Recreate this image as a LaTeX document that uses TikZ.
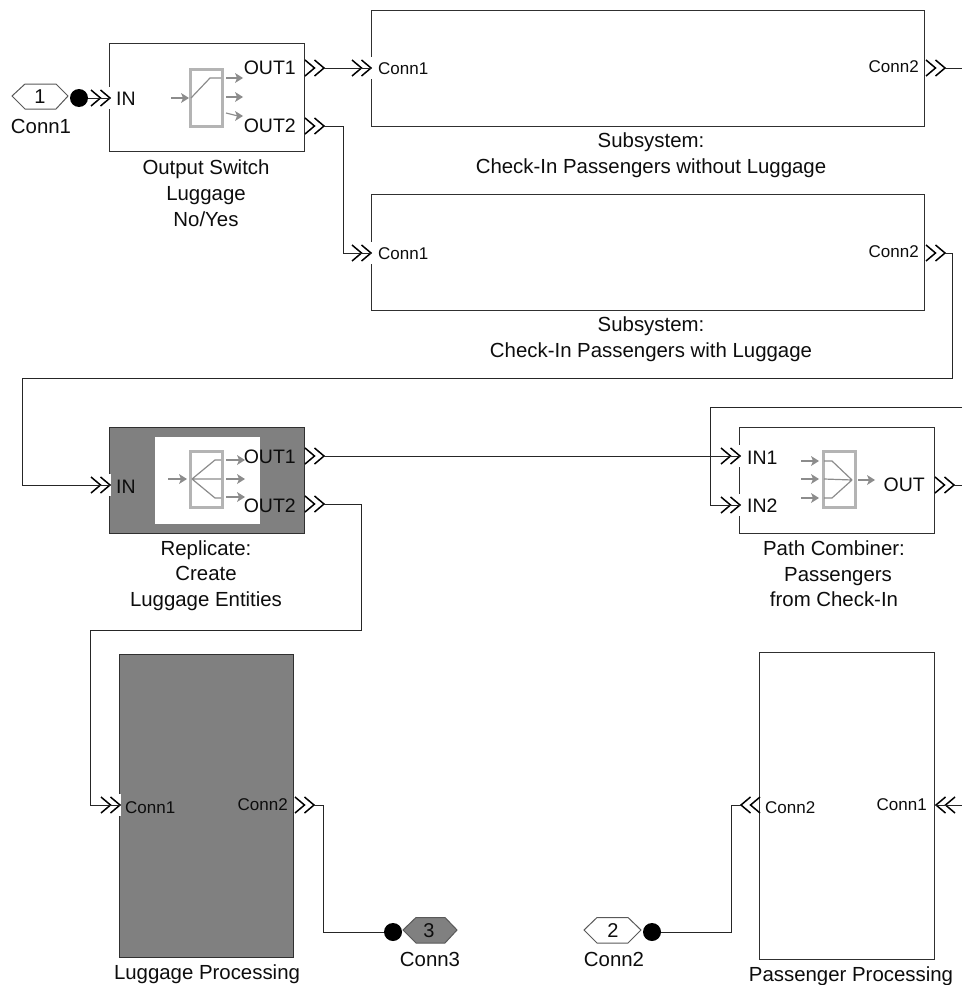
\documentclass[tikz,border=0pt]{standalone}
\usepackage{fontspec}
\setmainfont{Liberation Sans}
\definecolor{blockgray}{HTML}{808080}
\definecolor{icongray}{HTML}{B4B4B4}
\definecolor{thingray}{HTML}{8C8C8C}
\definecolor{edge}{HTML}{303030}
\tikzset{
  x=1pt,y=-1pt,
  block/.style={draw=edge,line width=1pt,anchor=north west,inner sep=0pt,outer sep=0pt},
  wire/.style={draw=black!85,line width=1pt},
  big/.style={font=\fontsize{19.5}{23}\selectfont,inner sep=0pt,text=black!95},
  small/.style={font=\fontsize{17}{20}\selectfont,inner sep=0pt,text=black!95},
  captext/.style={font=\fontsize{20.4}{24}\selectfont,inner sep=0pt,text=black!95,anchor=base},
  dot/.style={circle,fill=black,inner sep=0pt,minimum size=18pt},
  iconbox/.style={draw=icongray,line width=3pt},
  iconthin/.style={draw=thingray,line width=1.2pt},
  hexa/.style={draw=black!65,line width=1pt,line join=miter},
  chevr/.pic={\draw[black,line width=1.5pt] (-19,-8)--(-9.5,0)--(-19,8) (-9.5,-8)--(0,0)--(-9.5,8);},
  chevin/.pic={\fill[white] (-20,-11) rectangle (1.2,11);
    \draw[black,line width=1.5pt] (-19,-8)--(-9.5,0)--(-19,8) (-9.5,-8)--(0,0)--(-9.5,8);},
  chevl/.pic={\draw[black,line width=1.5pt] (19,-8)--(9.5,0)--(19,8) (9.5,-8)--(0,0)--(9.5,8);},
}
\newcommand{\tinyarrow}[4]{\draw[iconthin] (#1,#2)--(#3,#4);
  \fill[thingray] (#3+5,#4)--(#3-3,#4-5)--(#3-1,#4)--(#3-3,#4+5)--cycle;}
\begin{document}
\begin{tikzpicture}
\useasboundingbox (0,0) rectangle (962,985);
% blocks
\node[block,minimum width=195pt,minimum height=108pt] (sw) at (109,43) {};
\node[block,minimum width=553pt,minimum height=116pt] (subA) at (371,10) {};
\node[block,minimum width=553pt,minimum height=116pt] (subB) at (371,194) {};
\node[block,fill=blockgray,minimum width=195pt,minimum height=106pt] (rep) at (109,427) {};
\node[block,minimum width=195pt,minimum height=106pt] (comb) at (739,427) {};
\node[block,fill=blockgray,minimum width=174pt,minimum height=303pt] (lug) at (119,654) {};
\node[block,minimum width=175pt,minimum height=307pt] (pas) at (759,652) {};
% white patch of replicate icon
\node[fill=white,inner sep=0pt,anchor=north west,minimum width=105pt,minimum height=87pt] (repicon) at (155,437) {};
% icon: output switch
\draw[iconbox] (190,69) rectangle (222,126);
\tinyarrow{171}{98}{184}{98}
\draw[iconthin] (191,98)--(210,78)--(221,78);
\tinyarrow{226}{78}{238}{78}
\tinyarrow{226}{97}{238}{97}
\tinyarrow{226}{113}{238}{116}
% icon: replicate
\draw[iconbox] (190,451) rectangle (222,507);
\tinyarrow{168}{479}{182}{479}
\draw[iconthin] (192,479)--(215,460)--(221,460) (192,479)--(221,479) (192,479)--(215,498)--(221,498);
\tinyarrow{226}{460}{240}{460}
\tinyarrow{226}{479}{240}{479}
\tinyarrow{226}{497}{240}{497}
% icon: combiner
\draw[iconbox] (823,451) rectangle (855,507);
\tinyarrow{801}{461}{814}{461}
\tinyarrow{801}{479}{814}{479}
\tinyarrow{801}{498}{814}{498}
\draw[iconthin] (824,461)--(832,461)--(852,480) (824,479)--(852,480) (824,498)--(832,498)--(852,480);
\tinyarrow{858}{480}{870}{480}
% port coordinates
\coordinate (swIn) at (110,98);
\coordinate (swO1) at (324,68);
\coordinate (swO2) at (324,126);
\coordinate (aIn) at (371,68);
\coordinate (bIn) at (371,253);
\coordinate (aOut) at (945,68);
\coordinate (bOut) at (945,253);
\coordinate (repIn) at (110,485);
\coordinate (repO1) at (324,456);
\coordinate (repO2) at (324,504);
\coordinate (cIn1) at (740,456);
\coordinate (cIn2) at (740,505);
\coordinate (cOut) at (954,485);
\coordinate (lIn) at (120,805);
\coordinate (lOut) at (314,805);
\coordinate (pIn) at (741,805);
\coordinate (pOne) at (936,805);
\coordinate (eA) at (962,68);
\coordinate (eC) at (962,485);
\coordinate (eTop) at (962,407);
\coordinate (eP) at (962,805);
% port chevrons
\foreach \p in {swIn,aIn,bIn,repIn,cIn1,cIn2,lIn} {\pic at (\p) {chevin};}
\foreach \p in {swO1,swO2,aOut,bOut,repO1,repO2,cOut,lOut} {\pic at (\p) {chevr};}
\foreach \p in {pIn,pOne} {\pic at (\p) {chevl};}
% connector hexagons and dots
\node[dot] (d1) at (79,98) {};
\node[dot] (d3) at (393,932) {};
\node[dot] (d2) at (652,932) {};
\draw[hexa] (12,96)--(25,84)--(56,84)--(68,96)--(56,109)--(25,109)--cycle;
\draw[hexa,fill=blockgray] (403,930)--(416,917.5)--(445,917.5)--(457,930)--(445,943)--(416,943)--cycle;
\draw[hexa] (584,930)--(597,917.5)--(628,917.5)--(641,930)--(628,943)--(597,943)--cycle;
\node[big,font=\fontsize{20}{24}\selectfont] (n1) at (40,97) {1};
\node[big,font=\fontsize{20}{24}\selectfont] (n3) at (429,931) {3};
\node[big,font=\fontsize{20}{24}\selectfont] (n2) at (613,931) {2};
% wires
\draw[wire] (d1)--(swIn);
\draw[wire] (swO1)--(aIn);
\draw[wire] (swO2)--(343,126)--(343,253)--(bIn);
\draw[wire] (aOut)--(eA);
\draw[wire] (bOut)--(952,253)--(952,378)--(22,378)--(22,485)--(repIn);
\draw[wire] (repO1)--(cIn1);
\draw[wire] (repO2)--(361,504)--(361,630)--(90,630)--(90,805)--(lIn);
\draw[wire] (eTop)--(710,407)--(710,505)--(cIn2);
\draw[wire] (cOut)--(eC);
\draw[wire] (lOut)--(323,805)--(323,932)--(d3);
\draw[wire] (d2)--(731,932)--(731,805)--(pIn);
\draw[wire] (pOne)--(eP);
% port labels
\node[big,anchor=west] (tIn) at (116,99) {IN};
\node[big,anchor=east] (tO1) at (296,68) {OUT1};
\node[big,anchor=east] (tO2) at (296,126) {OUT2};
\node[big,anchor=west] (tIn2) at (116,487) {IN};
\node[big,anchor=east] (tO3) at (296,457) {OUT1};
\node[big,anchor=east] (tO4) at (296,506) {OUT2};
\node[big,anchor=west] (tI1) at (747,458) {IN1};
\node[big,anchor=west] (tI2) at (747,506) {IN2};
\node[big,anchor=east] (tOut) at (925,485) {OUT};
\node[small,anchor=west] (c1) at (378,69) {Conn1};
\node[small,anchor=east] (c2) at (919,67) {Conn2};
\node[small,anchor=west] (c3) at (378,254) {Conn1};
\node[small,anchor=east] (c4) at (919,252) {Conn2};
\node[small,anchor=west] (c5) at (125,808) {Conn1};
\node[small,anchor=east] (c6) at (288,805) {Conn2};
\node[small,anchor=west] (c7) at (765,808) {Conn2};
\node[small,anchor=east] (c8) at (927,805) {Conn1};
% captions
\node[captext] (l1) at (41,133) {Conn1};
\node[captext] (l2) at (430,966) {Conn3};
\node[captext] (l3) at (614,966) {Conn2};
\node[captext] at (206,174) {Output Switch};
\node[captext] at (206,200) {Luggage};
\node[captext] at (206,226) {No/Yes};
\node[captext] at (651,147) {Subsystem:};
\node[captext] at (651,173) {Check-In Passengers without Luggage};
\node[captext] at (651,331) {Subsystem:};
\node[captext] at (651,357) {Check-In Passengers with Luggage};
\node[captext] at (206,555) {Replicate:};
\node[captext] at (206,580) {Create};
\node[captext] at (206,606) {Luggage Entities};
\node[captext] at (834,555) {Path Combiner:};
\node[captext] at (838,581) {Passengers};
\node[captext] at (834,606) {from Check-In};
\node[captext] at (207,979) {Luggage Processing};
\node[captext] at (851,981) {Passenger Processing};
\end{tikzpicture}
\end{document}
